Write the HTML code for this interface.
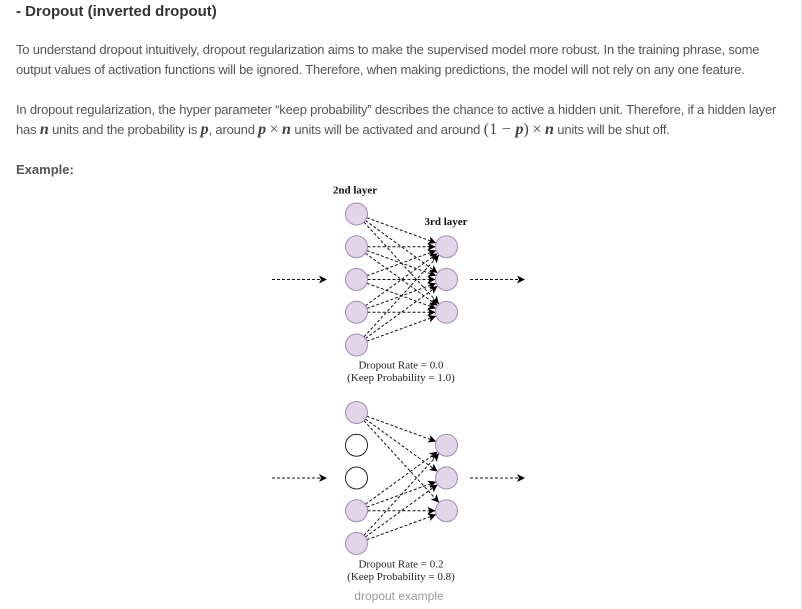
<!DOCTYPE html>
<html>
<head>
<meta charset="utf-8">
<style>
  html,body{margin:0;padding:0;background:#fff;}
  body{width:802px;height:609px;position:relative;overflow:hidden;font-family:"Liberation Sans",Arial,sans-serif;}
  .rb{position:absolute;left:801px;top:0;width:1px;height:609px;background:#e6e6e6;}
  .h{position:absolute;left:16px;top:2px;font-size:15px;line-height:20px;font-weight:bold;color:#333;white-space:nowrap;}
  .t{position:absolute;left:16px;font-size:13px;line-height:20px;color:#555;white-space:nowrap;letter-spacing:-0.19px;}
  .m{font-family:"Liberation Serif",serif;font-style:italic;font-weight:bold;font-size:16px;color:#444;letter-spacing:0;}
  .mr{font-family:"Liberation Serif",serif;font-size:16px;color:#444;letter-spacing:0;}
  .mb{font-family:"Liberation Serif",serif;font-size:16px;color:#444;letter-spacing:0.3px;}
  .ex{position:absolute;left:16px;top:160px;font-size:13px;line-height:20px;font-weight:bold;color:#555;}
  svg{position:absolute;left:0;top:0;}
</style>
</head>
<body>
<div class="rb"></div>
<div class="h">- Dropout (inverted dropout)</div>
<div class="t" style="top:40px;">To understand dropout intuitively, dropout regularization aims to make the supervised model more robust. In the training phrase, some</div>
<div class="t" style="top:60px;">output values of activation functions will be ignored. Therefore, when making predictions, the model will not rely on any one feature.</div>
<div class="t" style="top:100px;">In dropout regularization, the hyper parameter “keep probability” describes the chance to active a hidden unit. Therefore, if a hidden layer</div>
<div class="t" style="top:120px;">has <span class="m">n</span> units and the probability is <span class="m">p</span>, around <span class="m">p</span> <span class="mr">×</span> <span class="m">n</span> units will be activated and around <span class="mb">(1 − </span><span class="m">p</span><span class="mb">)</span> <span class="mr">×</span> <span class="m">n</span> units will be shut off.</div>
<div class="ex">Example:</div>

<svg width="802" height="609" viewBox="0 0 802 609" xmlns="http://www.w3.org/2000/svg">
  <defs>
    <marker id="ah" markerWidth="10" markerHeight="10" refX="8" refY="4" orient="auto" markerUnits="userSpaceOnUse">
      <path d="M0,0 L8,4 L0,8 L2,4 Z" fill="#000"/>
    </marker>
  </defs>

  <!-- Diagram 1 -->
  <g font-family="Liberation Serif, serif" fill="#111">
    <text x="355" y="193.5" font-size="11" font-weight="bold" text-anchor="middle">2nd layer</text>
    <text x="446" y="225" font-size="11" font-weight="bold" text-anchor="middle">3rd layer</text>
    <text x="401" y="368.5" font-size="11" text-anchor="middle" fill="#222">Dropout Rate = 0.0</text>
    <text x="401" y="381" font-size="11" text-anchor="middle" fill="#222">(Keep Probability = 1.0)</text>
  </g>
  <g stroke="#111" stroke-width="1" stroke-dasharray="3 2" fill="none" marker-end="url(#ah)">
    <line x1="272" y1="279.5" x2="327" y2="279.5"/>
    <line x1="470" y1="279.5" x2="525" y2="279.5"/>
    <line x1="366.84" y1="217.76" x2="436.16" y2="243.0"/>
    <line x1="365.39" y1="220.47" x2="437.61" y2="273.03"/>
    <line x1="363.93" y1="222.11" x2="439.07" y2="304.14"/>
    <line x1="367.5" y1="246.75" x2="435.5" y2="246.75"/>
    <line x1="366.84" y1="250.51" x2="436.16" y2="275.74"/>
    <line x1="365.39" y1="253.22" x2="437.61" y2="305.78"/>
    <line x1="366.84" y1="275.74" x2="436.16" y2="250.51"/>
    <line x1="367.5" y1="279.5" x2="435.5" y2="279.5"/>
    <line x1="366.84" y1="283.26" x2="436.16" y2="308.49"/>
    <line x1="365.39" y1="305.78" x2="437.61" y2="253.22"/>
    <line x1="366.84" y1="308.49" x2="436.16" y2="283.26"/>
    <line x1="367.5" y1="312.25" x2="435.5" y2="312.25"/>
    <line x1="363.93" y1="336.89" x2="439.07" y2="254.86"/>
    <line x1="365.39" y1="338.53" x2="437.61" y2="285.97"/>
    <line x1="366.84" y1="341.24" x2="436.16" y2="316.01"/>
  </g>
  <g fill="#e1d5e7" stroke="#a38bb3" stroke-width="1">
    <circle cx="356.5" cy="214" r="11"/>
    <circle cx="356.5" cy="246.75" r="11"/>
    <circle cx="356.5" cy="279.5" r="11"/>
    <circle cx="356.5" cy="312.25" r="11"/>
    <circle cx="356.5" cy="345" r="11"/>
    <circle cx="446.5" cy="246.75" r="11"/>
    <circle cx="446.5" cy="279.5" r="11"/>
    <circle cx="446.5" cy="312.25" r="11"/>
  </g>

  <!-- Diagram 2 -->
  <g transform="translate(0,198.5)">
    <g stroke="#111" stroke-width="1" stroke-dasharray="3 2" fill="none" marker-end="url(#ah)">
      <line x1="272" y1="279.5" x2="327" y2="279.5"/>
      <line x1="470" y1="279.5" x2="525" y2="279.5"/>
      <line x1="366.84" y1="217.76" x2="436.16" y2="243.0"/>
      <line x1="365.39" y1="220.47" x2="437.61" y2="273.03"/>
      <line x1="363.93" y1="222.11" x2="439.07" y2="304.14"/>
      <line x1="365.39" y1="305.78" x2="437.61" y2="253.22"/>
      <line x1="366.84" y1="308.49" x2="436.16" y2="283.26"/>
      <line x1="367.5" y1="312.25" x2="435.5" y2="312.25"/>
      <line x1="363.93" y1="336.89" x2="439.07" y2="254.86"/>
      <line x1="365.39" y1="338.53" x2="437.61" y2="285.97"/>
      <line x1="366.84" y1="341.24" x2="436.16" y2="316.01"/>
    </g>
    <g fill="#e1d5e7" stroke="#a38bb3" stroke-width="1">
      <circle cx="356.5" cy="214" r="11"/>
      <circle cx="356.5" cy="312.25" r="11"/>
      <circle cx="356.5" cy="345" r="11"/>
      <circle cx="446.5" cy="246.75" r="11"/>
      <circle cx="446.5" cy="279.5" r="11"/>
      <circle cx="446.5" cy="312.25" r="11"/>
    </g>
    <g fill="#fff" stroke="#222" stroke-width="1">
      <circle cx="356.5" cy="246.75" r="11"/>
      <circle cx="356.5" cy="279.5" r="11"/>
    </g>
  </g>
  <g font-family="Liberation Serif, serif" fill="#222">
    <text x="401" y="567.5" font-size="11" text-anchor="middle">Dropout Rate = 0.2</text>
    <text x="401" y="580" font-size="11" text-anchor="middle">(Keep Probability = 0.8)</text>
  </g>
  <text x="399" y="600" font-family="Liberation Sans, Arial, sans-serif" font-size="12" fill="#999" text-anchor="middle">dropout example</text>
</svg>
</body>
</html>
